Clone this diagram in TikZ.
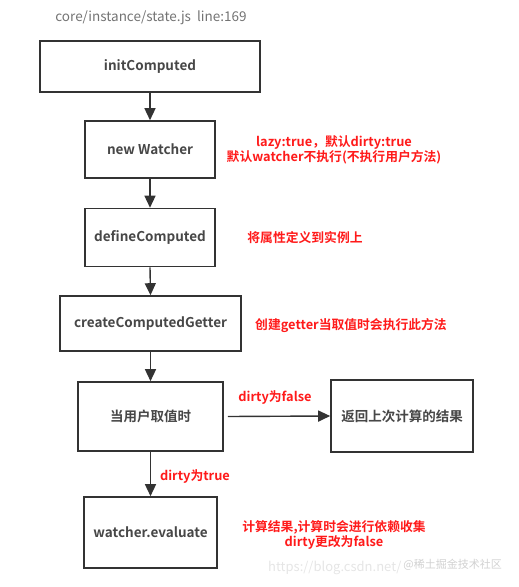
\documentclass[tikz,border=0pt]{standalone}
\usepackage{fontspec}
\setmainfont{Noto Sans CJK SC}
\newfontfamily\cjkb{Noto Sans CJK SC Bold}
\usetikzlibrary{arrows.meta}
\definecolor{boxline}{HTML}{333333}
\definecolor{lbl}{HTML}{FF1A1A}
\tikzset{
  box/.style={draw=boxline, line width=1.6pt, fill=white, inner sep=0pt, font=\cjkb\fontsize{13.5}{15}\selectfont, text=boxline!90},
  conn/.style={draw=boxline, line width=1.4pt, -{Triangle[length=12pt,width=11pt]}},
  note/.style={text=lbl, font=\cjkb\fontsize{12.8}{15.5}\selectfont, align=center, inner sep=0pt},
  wm/.style={text=black!10, font=\fontsize{13}{15}\selectfont, inner sep=0pt}
}
\begin{document}
\begin{tikzpicture}[x=1pt,y=-1pt]
\useasboundingbox (0,0) rectangle (519,587);
\node[text=black!55, font=\fontsize{13.5}{15}\selectfont, inner sep=0pt] (title) at (151,18) {core/instance/state.js\ \ line:169};
\node[box, minimum width=220pt, minimum height=51pt] (b1) at (150,66.5) {initComputed};
\node[box, minimum width=130pt, minimum height=57pt] (b2) at (150,149.5) {new Watcher};
\node[box, minimum width=130pt, minimum height=58pt] (b3) at (150,237.5) {defineComputed};
\node[box, minimum width=181pt, minimum height=55pt] (b4) at (150.5,323.5) {createComputedGetter};
\node[box, minimum width=145pt, minimum height=69pt] (b5) at (150.5,416.5) {当用户取值时};
\node[box, minimum width=142pt, minimum height=72pt] (b6) at (402,416) {返回上次计算的结果};
\node[box, minimum width=133pt, minimum height=71pt] (b7) at (150.5,532.5) {watcher.evaluate};
\draw[conn] (b1.south) -- (b2.north);
\draw[conn] (b2.south) -- (b3.north);
\draw[conn] (b3.south) -- (b4.north);
\draw[conn] (b4.south) -- (b5.north);
\draw[conn] ([xshift=4pt]b5.east) -- (b6.west);
\draw[conn] (b5.south) -- (b7.north);
\node[note] (n1) at (334,150) {lazy:true，默认dirty:true\\默认watcher不执行(不执行用户方法)};
\node[note] (n2) at (305,238) {将属性定义到实例上};
\node[note] (n3) at (351,326) {创建getter当取值时会执行此方法};
\node[note] (n4) at (275,398) {dirty为false};
\node[note] (n5) at (195,476) {dirty为true};
\node[note] (n6) at (334,535) {计算结果,计算时会进行依赖收集\\dirty更改为false};
\node[wm, anchor=west] (w1) at (268,568) {https://blog.csdn.net/};
\node[wm, anchor=east, text=black!18, font=\fontsize{11}{13}\selectfont] (w2) at (502,565) {@稀土掘金技术社区};
\end{tikzpicture}
\end{document}
